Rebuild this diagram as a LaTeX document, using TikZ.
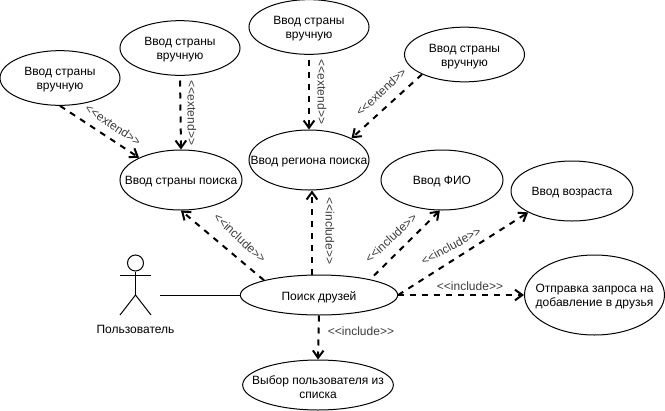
\documentclass[tikz,border=0pt]{standalone}
\usepackage{fontspec}
\setmainfont{Liberation Sans}
\usepackage{tikz}
\usetikzlibrary{
  shapes.geometric,
  arrows.meta
}
\AtBeginDocument{\fontsize{9}{10.5}\selectfont}
\definecolor{LabelGray}{RGB}{60, 60, 60}
\tikzset{
    every label/.style={align=center, yshift=-1.5pt},
    usecase/.style={ellipse, draw, line width=0.75pt, inner sep=0pt},
    small/.style={usecase, minimum width=90pt, minimum height=41pt},
    big/.style={usecase, minimum width=91.5pt, minimum height=45pt},
    extendline/.style={dashed, dash pattern=on 4.5pt off 4.5pt, line width=1.5pt, -{Straight Barb[length=5.5pt, width=8pt, line width=1.5pt]}},
    stereo/.style={text=LabelGray, inner sep=0pt},
    actorline/.style={line width=0.75pt}
}

\begin{document}
\begin{tikzpicture}[x=0.75pt, y=-0.75pt]
    \useasboundingbox (0,0) rectangle (665,411);
    % use cases
    \node[small, label=center:{Ввод страны\\вручную}] (manualA) at (60,78) {};
    \node[small, label=center:{Ввод страны\\вручную}] (manualB) at (180,48) {};
    \node[small, label=center:{Ввод страны\\вручную}] (manualC) at (309,27) {};
    \node[small, label=center:{Ввод страны\\вручную}] (manualD) at (464.5,54.5) {};
    \node[big, label=center:{Ввод страны поиска}] (country) at (181,180) {};
    \node[big, minimum width=90pt, label=center:{Ввод региона поиска}] (region) at (309,160) {};
    \node[big, label=center:{Ввод ФИО}] (fio) at (442,180) {};
    \node[big, label=center:{Ввод возраста}] (age) at (572,191) {};
    \node[usecase, minimum width=105pt, minimum height=60pt, label=center:{Отправка запроса на\\добавление в друзья}] (request) at (594.5,295) {};
    \node[usecase, minimum width=118pt, minimum height=30pt, label=center:{Поиск друзей}] (search) at (319,295) {};
    \node[usecase, minimum width=113pt, minimum height=37.5pt, label=center:{Выбор пользователя из\\списка}] (choose) at (318,385) {};

    % actor
    \node[circle, draw, line width=0.75pt, minimum size=12pt, inner sep=0pt] (head) at (135.5,263) {};
    \coordinate (hip) at (135.5,295);
    \coordinate (armL) at (120,275);
    \coordinate (armR) at (151,275);
    \coordinate (footL) at (120,315);
    \coordinate (footR) at (151,315);
    \coordinate (actorEnd) at (160,295);
    \draw[actorline] (head.south) -- (hip);
    \draw[actorline] (armL) -- (armR);
    \draw[actorline] (footL) -- (hip) -- (footR);
    \node[inner sep=0pt] (user) at (135.5,329) {Пользователь};
    \draw[actorline] (actorEnd) -- (search.west);

    % connectors
    \draw[extendline] (manualA.south) -- (country.152);
    \draw[extendline, shorten <=3.5pt] (manualB.south) -- (country.north);
    \draw[extendline, shorten <=4pt] (manualC.south) -- (region.north);
    \draw[extendline] (manualD.205) -- (region.27);
    \draw[extendline] (search.165) -- (country.south);
    \draw[extendline] (search.109) -- (search.109 |- region.south);
    \draw[extendline, shorten <=4pt] (search.17) -- (fio.266);
    \draw[extendline] (search.east) -- (age.206);
    \draw[extendline] (search.east) -- (request.west);
    \draw[extendline] (search.south) -- (choose.north);

    % stereotypes
    \node[stereo, rotate=-34] (extA) at (113,125) {<{}<extend>{}>};
    \node[stereo, rotate=-90] (extB) at (192,113) {<{}<extend>{}>};
    \node[stereo, rotate=-90] (extC) at (322,92) {<{}<extend>{}>};
    \node[stereo, rotate=43] (extD) at (381,92) {<{}<extend>{}>};
    \node[stereo, rotate=-43] (incA) at (240,238) {<{}<include>{}>};
    \node[stereo, rotate=-90] (incB) at (330,231) {<{}<include>{}>};
    \node[stereo, rotate=43] (incC) at (391,238) {<{}<include>{}>};
    \node[stereo, rotate=29] (incD) at (451,246) {<{}<include>{}>};
    \node[stereo] (incE) at (470,286) {<{}<include>{}>};
    \node[stereo] (incF) at (361,331) {<{}<include>{}>};
\end{tikzpicture}
\end{document}
